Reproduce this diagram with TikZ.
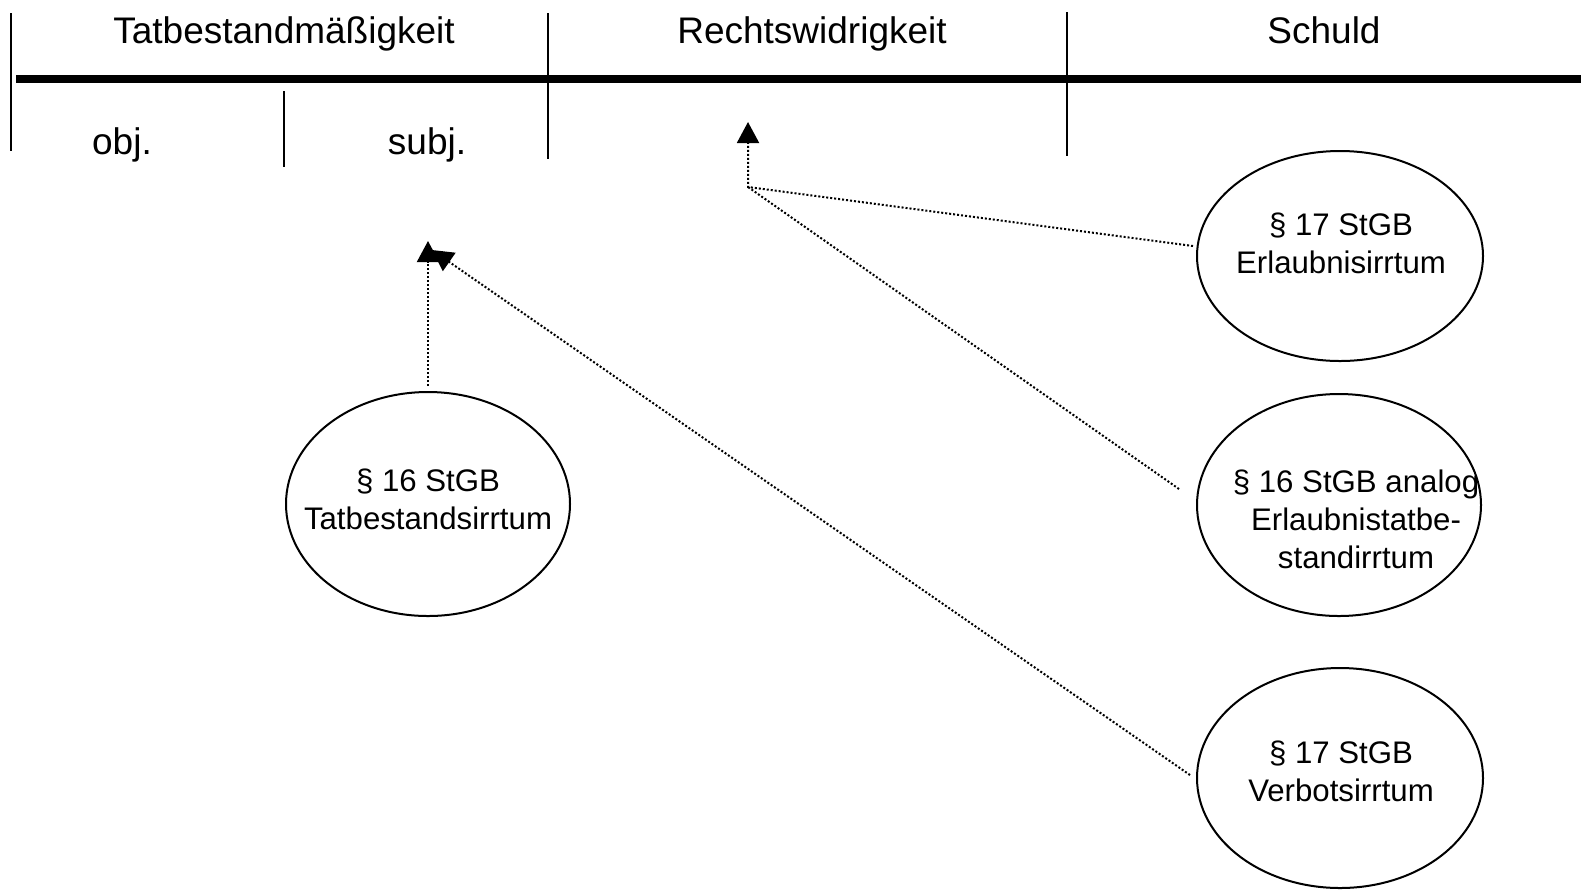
\documentclass[tikz,border=0pt]{standalone}
\usepackage{fontspec}
\setmainfont{Liberation Sans}
\usetikzlibrary{shapes.geometric,arrows.meta}
\begin{document}
\begin{tikzpicture}[x=0.5pt,y=-0.5pt,
  sep/.style={line width=1pt},
  bar/.style={line width=4pt},
  head/.style={font=\fontsize{18.5}{22}\selectfont, inner sep=0pt, anchor=base},
  ell/.style={draw, ellipse, line width=1pt, inner sep=0pt, minimum width=#1pt},
  etext/.style={font=\fontsize{15.6}{19}\selectfont, align=center, inner sep=0pt},
  dots/.style={line width=1pt, dash pattern=on 1pt off 1pt},
  arr/.style={dots, -{Triangle[length=10.5pt,width=11pt]}}
]
\useasboundingbox (0,0) rectangle (1583,890);
% frame lines
\draw[bar] (16,79) -- (1581,79);
\draw[sep] (11,13) -- (11,151);
\draw[sep] (284,91) -- (284,167);
\draw[sep] (548,13) -- (548,159);
\draw[sep] (1067,12) -- (1067,156);
% headers
\node[head] (tb) at (284,43) {Tatbestandmäßigkeit};
\node[head] (rw) at (812,43) {Rechtswidrigkeit};
\node[head] (sc) at (1324,43) {Schuld};
\node[head] (obj) at (122,154) {obj.};
\node[head] (subj) at (427,154) {subj.};
% ellipses
\node[ell=143, minimum height=105pt] (e1) at (1340,256) {};
\node[etext] (t1) at (1341,243) {§ 17 StGB\\Erlaubnisirrtum};
\node[ell=142, minimum height=111pt] (e2) at (1339,505) {};
\node[etext] (t2) at (1356,519) {§ 16 StGB analog\\Erlaubnistatbe-\\standirrtum};
\node[ell=143, minimum height=110pt] (e3) at (1340,778) {};
\node[etext] (t3) at (1341,771) {§ 17 StGB\\Verbotsirrtum};
\node[ell=142, minimum height=112pt] (e4) at (428,504) {};
\node[etext] (t4) at (428,499) {§ 16 StGB\\Tatbestandsirrtum};
% connectors
\coordinate (j) at (748,187);
\coordinate (rtip) at (748,122);
\coordinate (stip) at (428,241);
\coordinate (vtip) at (432,250);
\coordinate (e2end) at (1179,489);
\draw[arr] (e1.west) ++(-3,-10) -- (j) -- (rtip);
\draw[dots] (e2end) -- (j);
\draw[arr] (e4.north) ++(0,-5) -- (stip);
\draw[arr] (e3.west) ++(-6,-3) -- (vtip);
\end{tikzpicture}
\end{document}
